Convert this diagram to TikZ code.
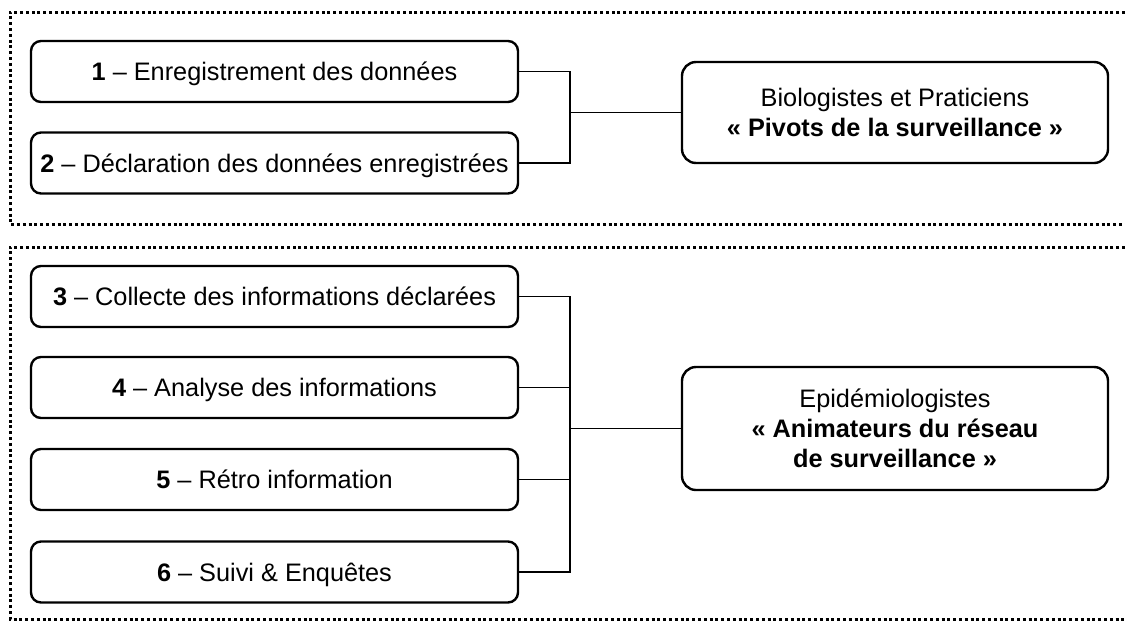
\documentclass[tikz,border=0pt]{standalone}
\usepackage{fontspec}
\setmainfont{Liberation Sans}
\begin{document}
\begin{tikzpicture}[x=1pt,y=-1pt,
  stepbox/.style={draw, line width=2.4pt, rounded corners=10pt, minimum width=487pt, minimum height=61pt, inner sep=0pt, text height=18.3pt, text depth=0pt, font=\fontsize{25.3}{30}\selectfont},
  rolebox/.style={draw, line width=2.4pt, rounded corners=14pt, minimum width=426pt, inner sep=0pt, align=center, font=\fontsize{25.3}{30}\selectfont},
  frame/.style={line width=3pt, dash pattern=on 3pt off 2.8pt},
  link/.style={line width=1.6pt}]
\useasboundingbox (0,0) rectangle (1125,622);
\fill[white] (0,0) rectangle (1125,622);
% frames
\draw[frame] (1125,12) -- (10,12) -- (10,224) -- (1125,224);
\draw[frame] (1125,247) -- (10,247) -- (10,619) -- (1125,619);
% top group
\node[stepbox] (b1) at (274.5,71.5) {\textbf{1} – Enregistrement des données};
\node[stepbox] (b2) at (274.5,163) {\textbf{2} – Déclaration des données enregistrées};
\node[rolebox, minimum height=101pt] (r1) at (895,112.5) {Biologistes et Praticiens\\\textbf{« Pivots de la surveillance »}};
\coordinate (j1) at (570,112.5);
\draw[link] (b1.east) -| (j1) -- (r1.west);
\draw[link] (b2.east) -| (j1);
% bottom group
\node[stepbox] (b3) at (274.5,296.5) {\textbf{3} – Collecte des informations déclarées};
\node[stepbox] (b4) at (274.5,387.5) {\textbf{4} – Analyse des informations};
\node[stepbox] (b5) at (274.5,479.5) {\textbf{5} – Rétro information};
\node[stepbox] (b6) at (274.5,572) {\textbf{6} – Suivi \& Enquêtes};
\node[rolebox, minimum height=123pt] (r2) at (895,428.5) {Epidémiologistes\\\textbf{« Animateurs du réseau}\\\textbf{de surveillance »}};
\coordinate (j2) at (570,428.5);
\draw[link] (b3.east) -| (j2) -- (r2.west);
\draw[link] (b4.east) -| (j2);
\draw[link] (b5.east) -| (j2);
\draw[link] (b6.east) -| (j2);
\end{tikzpicture}
\end{document}
